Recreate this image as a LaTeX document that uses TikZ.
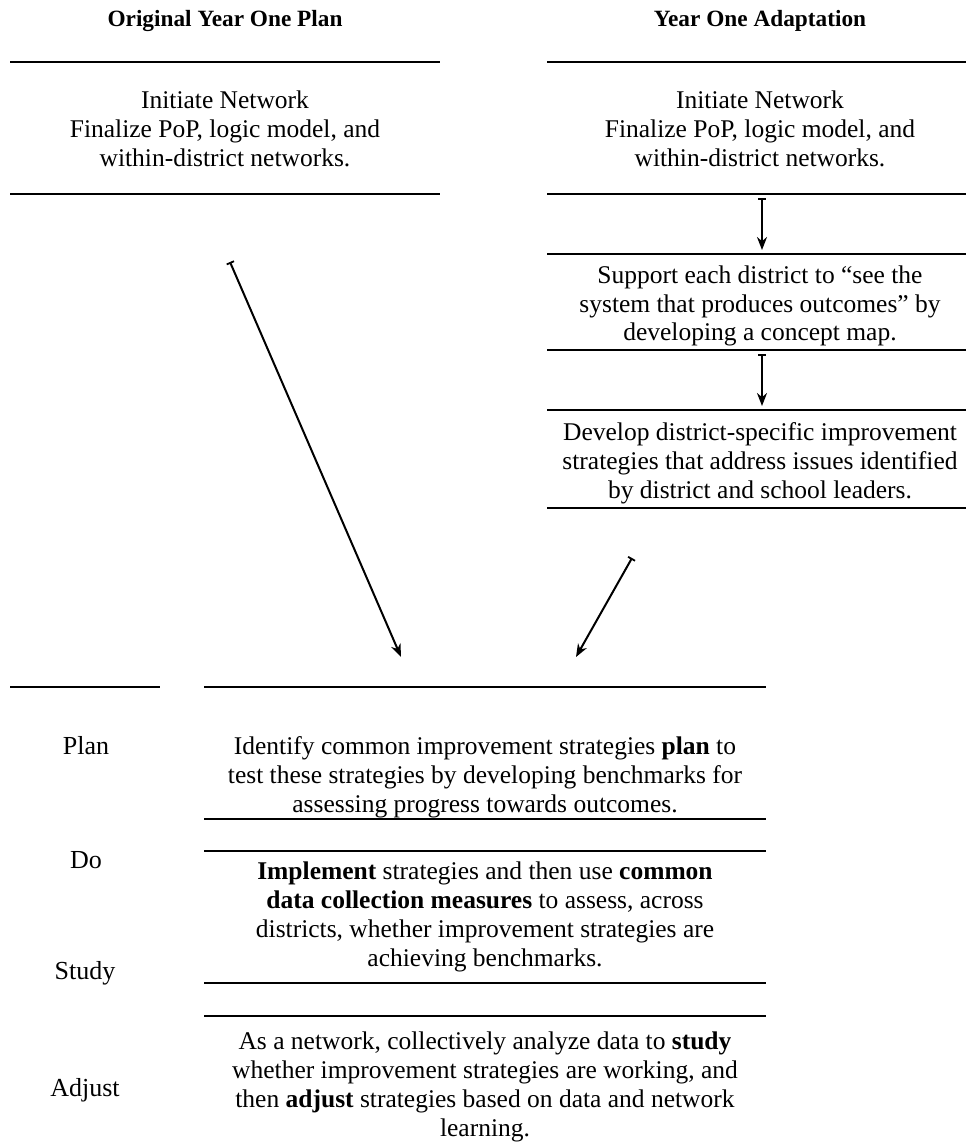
\documentclass[tikz,border=0pt]{standalone}
\usepackage{fontspec}
\setmainfont{Liberation Serif}
\usetikzlibrary{arrows.meta}
\begin{document}
\begin{tikzpicture}[x=1pt,y=-1pt,
  rule/.style={line width=2.4pt},
  head/.style={font=\fontsize{23.3}{27}\selectfont\bfseries, anchor=center, inner sep=0pt},
  body/.style={font=\fontsize{25.5}{28.8}\selectfont, align=center, anchor=center, inner sep=0pt},
  phase/.style={font=\fontsize{26}{29}\selectfont, anchor=center, inner sep=0pt},
  flow/.style={line width=2pt, {Bar[width=8pt,line width=1.8pt]}-{Stealth[length=13pt,width=10pt]}}
]
\useasboundingbox (0,0) rectangle (966,1144);

% column headings
\node[head] (hleft) at (225,21) {Original Year One Plan};
\node[head] (hright) at (760,21) {Year One Adaptation};

% original plan, top row
\draw[rule] (10,62) -- (440,62);
\draw[rule] (10,194) -- (440,194);
\node[body] (initL) at (225,129) {Initiate Network\\Finalize PoP, logic model, and\\within-district networks.};

% adaptation column
\draw[rule] (547,62) -- (966,62);
\draw[rule] (547,194) -- (966,194);
\draw[rule] (547,254) -- (966,254);
\draw[rule] (547,350) -- (966,350);
\draw[rule] (547,410) -- (966,410);
\draw[rule] (547,508) -- (966,508);
\node[body] (initR) at (760,129) {Initiate Network\\Finalize PoP, logic model, and\\within-district networks.};
\node[body] (support) at (760,306) {Support each district to ``see the\\system that produces outcomes'' by\\developing a concept map.};
\node[body] (develop) at (760,463) {Develop district-specific improvement\\strategies that address issues identified\\by district and school leaders.};

% connectors
\coordinate (s1) at (762,198);
\coordinate (e1) at (762,250);
\coordinate (s2) at (762,354);
\coordinate (e2) at (762,406);
\coordinate (sL) at (230,262);
\coordinate (eL) at (401,657);
\coordinate (sR) at (632,558);
\coordinate (eR) at (576,657);
\draw[flow] (s1) -- (e1);
\draw[flow] (s2) -- (e2);
\draw[flow] (sL) -- (eL);
\draw[flow] (sR) -- (eR);

% cycle table
\draw[rule] (10,687) -- (160,687);
\draw[rule] (204,687) -- (766,687);
\draw[rule] (204,819) -- (766,819);
\draw[rule] (204,851) -- (766,851);
\draw[rule] (204,983) -- (766,983);
\draw[rule] (204,1016) -- (766,1016);

\node[phase] (plan) at (86,746) {Plan};
\node[phase] (do) at (86,860) {Do};
\node[phase] (study) at (85,973) {Study};
\node[phase] (adjust) at (85,1090) {Adjust};

\node[body] (tplan) at (485,777) {Identify common improvement strategies \textbf{plan} to\\test these strategies by developing benchmarks for\\assessing progress towards outcomes.};
\node[body] (tdo) at (485,917) {\textbf{Implement} strategies and then use \textbf{common}\\\textbf{data collection measures} to assess, across\\districts, whether improvement strategies are\\achieving benchmarks.};
\node[body] (tadj) at (485,1087) {As a network, collectively analyze data to \textbf{study}\\whether improvement strategies are working, and\\then \textbf{adjust} strategies based on data and network\\learning.};
\end{tikzpicture}
\end{document}
